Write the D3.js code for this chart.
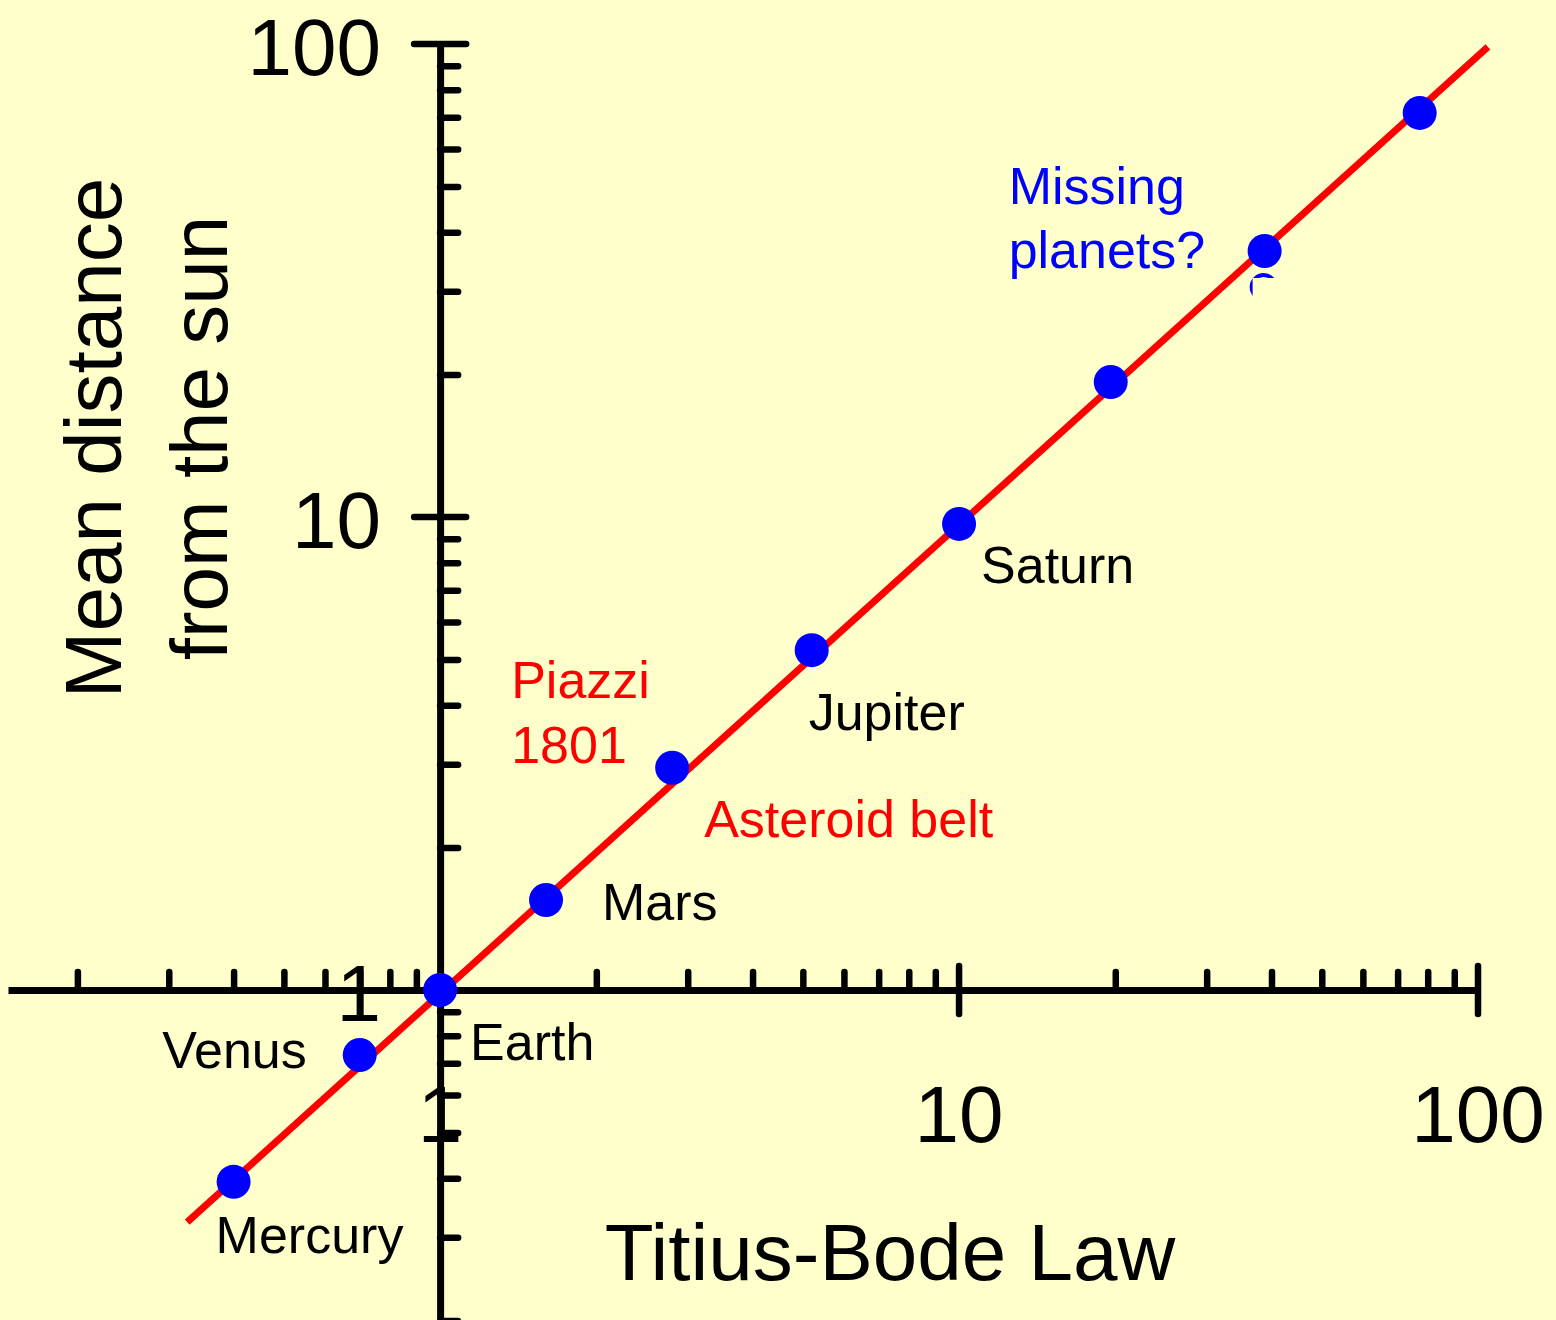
<!DOCTYPE html>
<html>
<head>
<meta charset="utf-8">
<script src="https://cdn.jsdelivr.net/npm/d3@7"></script>
<style>
  html, body { margin: 0; padding: 0; background: #ffffcc; }
  svg { display: block; }
  text { font-family: "Liberation Sans", Arial, sans-serif; }
</style>
</head>
<body>
<svg id="chart" width="1556" height="1320"></svg>
<script>
// Titius-Bode prediction (x) against the real mean distance (y), in AU
const planetNames = ['Mercury', 'Venus', 'Earth', 'Mars', 'Ceres', 'Jupiter', 'Saturn', 'Uranus', 'Neptune', 'Pluto']
const bodeDistances = [0.4, 0.7, 1.0, 1.6, 2.8, 5.2, 10.0, 19.6, 38.8, 77.2]
const meanDistances = [0.393, 0.729, 1.0, 1.55, 2.95, 5.23, 9.67, 19.3, 36.5, 71.5]

// the red law line, two ends
const lawLineX = [0.3255, 104.5]
const lawLineY = [0.323, 98.6]

const majorTicks = [1, 10, 100]
const minorTicks = [0.2, 0.3, 0.4, 0.5, 0.6, 0.7, 0.8, 0.9,
                    2, 3, 4, 5, 6, 7, 8, 9,
                    20, 30, 40, 50, 60, 70, 80, 90]

const width = 1556
const height = 1320
const svg = d3.select('#chart')

svg.append('rect')
    .attr('width', width)
    .attr('height', height)
    .attr('fill', '#ffffcc')

let x = d3.scaleLog().domain([0.147, 100]).range([8, 1478])
let y = d3.scaleLog().domain([0.2, 100]).range([1320.6, 44])

let x0 = x(1)
let y0 = y(1)

// x axis: line + minor ticks pointing up
let xAxis = svg.append('g')
    .attr('transform', 'translate(0,' + y0 + ')')
    .call(d3.axisTop(x).tickValues(minorTicks).tickSize(18).tickSizeOuter(0).tickFormat(''))
xAxis.select('.domain').attr('stroke-width', 7).attr('stroke', '#000')
xAxis.selectAll('.tick line').attr('stroke-width', 6.5).attr('stroke-linecap', 'round')

xAxis.selectAll('.major')
    .data(majorTicks.filter(d => d !== 1))
    .enter()
    .append('line')
    .attr('x1', d => x(d)).attr('x2', d => x(d))
    .attr('y1', -24).attr('y2', 24)
    .attr('stroke', '#000').attr('stroke-width', 6.5).attr('stroke-linecap', 'round')

// y axis: line + minor ticks pointing right
let yAxis = svg.append('g')
    .attr('transform', 'translate(' + x0 + ',0)')
    .call(d3.axisRight(y).tickValues(minorTicks).tickSize(18).tickSizeOuter(0).tickFormat(''))
yAxis.select('.domain').attr('stroke-width', 7).attr('stroke', '#000')
yAxis.selectAll('.tick line').attr('stroke-width', 6.5).attr('stroke-linecap', 'round')

yAxis.selectAll('.major')
    .data(majorTicks.filter(d => d !== 1))
    .enter()
    .append('line')
    .attr('y1', d => y(d)).attr('y2', d => y(d))
    .attr('x1', -26).attr('x2', 26)
    .attr('stroke', '#000').attr('stroke-width', 6.5).attr('stroke-linecap', 'round')

// tick labels
svg.selectAll('.ylab')
    .data(majorTicks)
    .enter()
    .append('text')
    .attr('x', 381)
    .attr('y', d => y(d) + 31)
    .attr('text-anchor', 'end')
    .attr('font-size', 80)
    .attr('fill', '#000')
    .text(d => d)

svg.selectAll('.xlab')
    .data(majorTicks)
    .enter()
    .append('text')
    .attr('x', d => x(d))
    .attr('y', 1142)
    .attr('text-anchor', 'middle')
    .attr('font-size', 80)
    .attr('fill', '#000')
    .text(d => d)

// axis titles
svg.append('text')
    .attr('x', 890).attr('y', 1280)
    .attr('text-anchor', 'middle')
    .attr('font-size', 80)
    .text('Titius-Bode Law')

let yTitle = svg.append('text')
    .attr('transform', 'translate(121,438) rotate(-90)')
    .attr('text-anchor', 'middle')
    .attr('font-size', 80)
yTitle.append('tspan').attr('x', 0).attr('y', 0).text('Mean distance')
yTitle.append('tspan').attr('x', 0).attr('y', 106).text('from the sun')

// half hidden blue glyph under Neptune
let ni = planetNames.indexOf('Neptune')
let nx = x(bodeDistances[ni])
let ny = y(meanDistances[ni])
svg.append('circle')
    .attr('cx', nx - 1).attr('cy', ny + 36).attr('r', 12)
    .attr('fill', 'none').attr('stroke', '#0000ff').attr('stroke-width', 4)
svg.append('rect')
    .attr('x', nx - 12).attr('y', ny + 27)
    .attr('width', 40).attr('height', 30)
    .attr('fill', '#ffffcc')

// law line
svg.append('line')
    .attr('x1', x(lawLineX[0])).attr('y1', y(lawLineY[0]))
    .attr('x2', x(lawLineX[1])).attr('y2', y(lawLineY[1]))
    .attr('stroke', '#ff0000')
    .attr('stroke-width', 7)

// planets
let planets = planetNames.map((n, i) => ({ name: n, bode: bodeDistances[i], mean: meanDistances[i] }))
svg.selectAll('.dot')
    .data(planets)
    .enter()
    .append('circle')
    .attr('cx', d => x(d.bode))
    .attr('cy', d => y(d.mean))
    .attr('r', 17)
    .attr('fill', '#0000ff')

// labels, placed relative to their dot
const labelPlacement = [
    { at: 'Mercury', text: 'Mercury', dx: -18, dy: 71, anchor: 'start', color: '#000' },
    { at: 'Venus', text: 'Venus', dx: -53, dy: 13, anchor: 'end', color: '#000' },
    { at: 'Earth', text: 'Earth', dx: 30, dy: 70, anchor: 'start', color: '#000' },
    { at: 'Mars', text: 'Mars', dx: 56, dy: 20, anchor: 'start', color: '#000' },
    { at: 'Jupiter', text: 'Jupiter', dx: -3, dy: 80, anchor: 'start', color: '#000' },
    { at: 'Saturn', text: 'Saturn', dx: 22, dy: 59, anchor: 'start', color: '#000' },
    { at: 'Ceres', text: 'Asteroid belt', dx: 32, dy: 69, anchor: 'start', color: '#ff0000' },
    { at: 'Ceres', text: 'Piazzi', dx: -161, dy: -70, anchor: 'start', color: '#ff0000' },
    { at: 'Ceres', text: '1801', dx: -161, dy: -5, anchor: 'start', color: '#ff0000' },
    { at: 'Neptune', text: 'Missing', dx: -256, dy: -47, anchor: 'start', color: '#0000ff' },
    { at: 'Neptune', text: 'planets?', dx: -256, dy: 17, anchor: 'start', color: '#0000ff' }
]

svg.selectAll('.lbl')
    .data(labelPlacement)
    .enter()
    .append('text')
    .attr('x', d => { let p = planets.find(q => q.name === d.at); return x(p.bode) + d.dx })
    .attr('y', d => { let p = planets.find(q => q.name === d.at); return y(p.mean) + d.dy })
    .attr('text-anchor', d => d.anchor)
    .attr('font-size', 52)
    .attr('fill', d => d.color)
    .text(d => d.text)
</script>
</body>
</html>
